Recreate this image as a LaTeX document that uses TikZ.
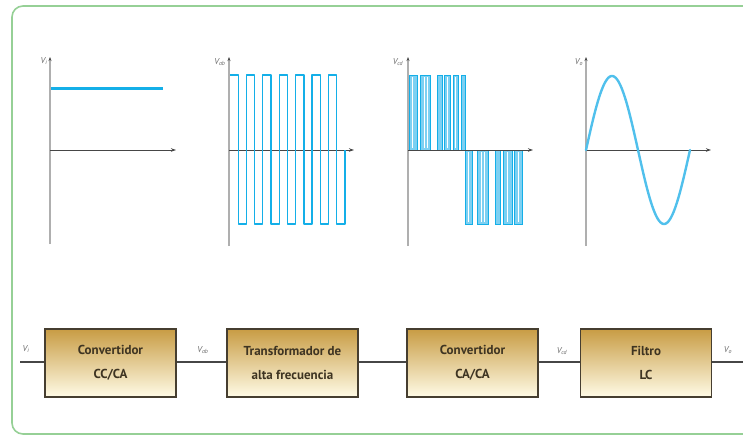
\documentclass[tikz,border=0pt]{standalone}
\usepackage{fontspec}
\setmainfont{PT Sans}
\usetikzlibrary{arrows.meta}
\definecolor{framegreen}{RGB}{150,208,150}
\definecolor{wave}{RGB}{20,175,232}
\definecolor{wavefill}{RGB}{125,208,242}
\definecolor{sinec}{RGB}{80,192,236}
\definecolor{axisv}{RGB}{175,175,175}
\definecolor{axish}{RGB}{70,70,70}
\definecolor{boxtop}{RGB}{200,156,68}
\definecolor{boxbot}{RGB}{255,251,230}
\definecolor{boxedge}{RGB}{70,62,48}
\definecolor{boxtext}{RGB}{62,52,34}
\definecolor{lbl}{RGB}{105,105,105}
\tikzset{
  yaxis/.style={draw=axisv,line width=1.6pt,-{Stealth[length=4pt,width=3pt,color=axish]}},
  xaxis/.style={draw=axish,line width=0.9pt,-{Stealth[length=5pt,width=3.5pt]}},
  vlabel/.style={text=lbl,font=\fontsize{8.5}{8.5}\selectfont\itshape,inner sep=0pt},
  sq/.style={draw=wave,line width=1.3pt,line join=round},
  pulse/.style={draw=wave,fill=wavefill,line width=0.8pt},
  blockbox/.style={draw=boxedge,line width=1.6pt,top color=boxtop,bottom color=boxbot,
    minimum width=131pt,minimum height=68pt,inner sep=0pt,align=center,
    text=boxtext,font=\fontsize{13}{24}\selectfont\bfseries},
  wire/.style={draw=axish,line width=1.6pt},
}
\begin{document}
\begin{tikzpicture}[x=1pt,y=-1pt]
\useasboundingbox (0,0) rectangle (743,436);
\clip (0,0) rectangle (743,436);
% outer frame
\draw[framegreen,line width=1.6pt,rounded corners=11pt] (12,6) rectangle (790,434);

% ---- plot 1: DC input
\draw[yaxis] (50,244) -- (50,57);
\draw[xaxis] (50,150) -- (176,150);
\draw[wave,line width=3pt] (51,88) -- (163,88);
\node[vlabel] (l1) at (44,61) {V\textsubscript{i}};

% ---- plot 2: high frequency square wave
\draw[yaxis] (229,246) -- (229,57);
\draw[xaxis] (229,150) -- (354,150);
\draw[sq] (230,75) \foreach \k in {1,...,6}{ -- ++(8.21,0) -- ++(0,149) -- ++(8.21,0) -- ++(0,-149)}
   -- ++(8.21,0) -- ++(0,149) -- ++(8.21,0) -- ++(0,-74);
\node[vlabel] (l2) at (220,62) {V\textsubscript{ab}};

% ---- plot 3: pulse-width modulated output of the AC/AC stage
\draw[yaxis] (408,246) -- (408,57);
\foreach \a/\b in {409/417,420/430,437/442,444/450,453/458,461/465}
  \draw[pulse] (\a,150) rectangle (\b,75);
\foreach \a/\b in {465/472,477/488,495/500,503/512,514/522}
  \draw[pulse] (\a,150) rectangle (\b,224);
\foreach \x in {412,424,427,447,455} \draw[white,line width=0.5pt] (\x,77) -- (\x,148);
\foreach \x in {468,481,484,507,518} \draw[white,line width=0.5pt] (\x,152) -- (\x,222);
\draw[xaxis] (408,150) -- (533,150);
\node[vlabel] (l3) at (398,62) {V\textsubscript{cd}};

% ---- plot 4: filtered sine
\draw[yaxis] (586,246) -- (586,57);
\draw[xaxis] (586,150) -- (711,150);
\draw[sinec,line width=2.4pt,line cap=round] plot[domain=0:360,samples=120] ({586+\x/360*104},{150-74*sin(\x)});
\node[vlabel] (l4) at (579,62) {V\textsubscript{o}};

% ---- block diagram
\coordinate (in) at (20,362);
\coordinate (out) at (743,362);
\node[blockbox] (b1) at (110.5,363) {Convertidor\\CC/CA};
\node[blockbox] (b2) at (292.5,363) {Transformador de\\alta frecuencia};
\node[blockbox] (b3) at (472.5,363) {Convertidor\\CA/CA};
\node[blockbox] (b4) at (646,363) {Filtro\\LC};
\draw[wire] (in) -- (b1.west |- in);
\draw[wire] (b1.east |- in) -- (b2.west |- in);
\draw[wire] (b2.east |- in) -- (b3.west |- in);
\draw[wire] (b3.east |- in) -- (b4.west |- in);
\draw[wire] (b4.east |- in) -- (out);
\node[vlabel] (s1) at (26,349) {V\textsubscript{i}};
\node[vlabel] (s2) at (203,350) {V\textsubscript{ab}};
\node[vlabel] (s3) at (562,351) {V\textsubscript{cd}};
\node[vlabel] (s4) at (728,350) {V\textsubscript{o}};
\end{tikzpicture}
\end{document}
